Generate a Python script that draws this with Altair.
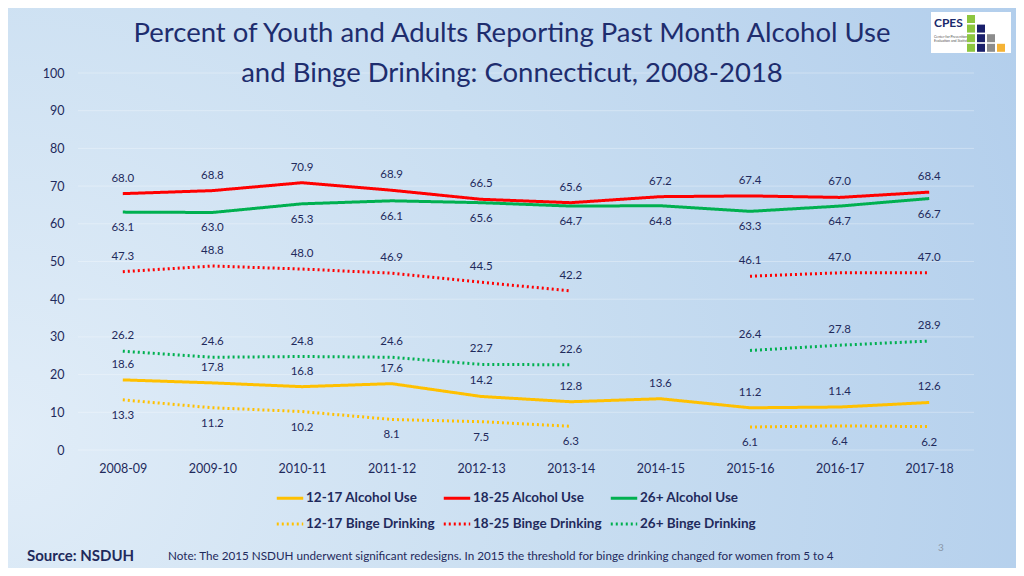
import altair as alt
import pandas as pd

categories = ["2008-09", "2009-10", "2010-11", "2011-12", "2012-13",
              "2013-14", "2014-15", "2015-16", "2016-17", "2017-18"]
alc_1217 = [18.6, 17.8, 16.8, 17.6, 14.2, 12.8, 13.6, 11.2, 11.4, 12.6]
alc_1825 = [68.0, 68.8, 70.9, 68.9, 66.5, 65.6, 67.2, 67.4, 67.0, 68.4]
alc_26 = [63.1, 63.0, 65.3, 66.1, 65.6, 64.7, 64.8, 63.3, 64.7, 66.7]
binge_1217 = [13.3, 11.2, 10.2, 8.1, 7.5, 6.3, None, 6.1, 6.4, 6.2]
binge_1825 = [47.3, 48.8, 48.0, 46.9, 44.5, 42.2, None, 46.1, 47.0, 47.0]
binge_26 = [26.2, 24.6, 24.8, 24.6, 22.7, 22.6, None, 26.4, 27.8, 28.9]
y_ticks = [0, 10, 20, 30, 40, 50, 60, 70, 80, 90, 100]

series_names = ["12-17 Alcohol Use", "18-25 Alcohol Use", "26+ Alcohol Use",
                "12-17 Binge Drinking", "18-25 Binge Drinking", "26+ Binge Drinking"]
series_values = [alc_1217, alc_1825, alc_26, binge_1217, binge_1825, binge_26]
label_side = ["above", "above", "below", "below", "above", "above"]
colors = ["#FFC000", "#FF0000", "#00B050", "#FFC000", "#FF0000", "#00B050"]
dashes = [[1, 0], [1, 0], [1, 0], [2, 3], [2, 3], [2, 3]]

rows = []
for name, vals, side in zip(series_names, series_values, label_side):
    seg = 0
    for cat, v in zip(categories, vals):
        if v is None:
            seg += 1
            continue
        rows.append({"cat": cat, "value": v, "series": name,
                     "segment": f"{name}-{seg}", "side": side,
                     "label": f"{v:.1f}"})
df = pd.DataFrame(rows)

W, H = 896, 377
NAVY = "#1F2A5C"
FONT = "Lato"

xenc = alt.X("cat:N", sort=categories, title=None,
             scale=alt.Scale(paddingInner=0, paddingOuter=0.5),
             axis=alt.Axis(labelAngle=0, labelFontSize=12.5, labelColor=NAVY,
                           labelPadding=12, domain=False, ticks=False,
                           labelFont=FONT, grid=False, zindex=1))
y_axis = alt.Axis(values=y_ticks, labelFontSize=12.5, labelOverlap=False,
                  labelColor=NAVY, labelPadding=14, domain=False,
                  ticks=False, labelFont=FONT, grid=False, zindex=1)
y_scale = alt.Scale(domain=[0, 100], nice=False)
yenc = alt.Y("value:Q", title=None, scale=y_scale, axis=y_axis)

legend_def = alt.Legend(title=None, orient="none", legendX=197, legendY=H + 33,
                        columns=3, direction="horizontal",
                        symbolType="stroke", symbolSize=700,
                        symbolStrokeWidth=3, labelFontSize=13.5,
                        labelFont=FONT, labelFontWeight="bold",
                        labelColor=NAVY, rowPadding=4,
                        columnPadding=2, labelOffset=1,
                        symbolOffset=0)

one = pd.DataFrame({"a": [0]})

bg = alt.Chart(one).mark_rect(
    color={"gradient": "radial", "x1": 0.0, "y1": 0.65, "r1": 0.0,
           "x2": 0.0, "y2": 0.65, "r2": 1.1,
           "stops": [{"offset": 0, "color": "#E1EDF8"},
                     {"offset": 0.5, "color": "#C9DEF1"},
                     {"offset": 1, "color": "#B2CEEC"}]}
).encode(x=alt.value(-72), x2=alt.value(W + 44), y=alt.value(-67), y2=alt.value(H + 120))

grid = alt.Chart(pd.DataFrame({"value": y_ticks})).mark_rule(
    color="#FFFFFF", opacity=0.3, strokeWidth=1).encode(
    y=yenc, x=alt.value(0), x2=alt.value(W))

lines = alt.Chart(df).mark_line(strokeWidth=3).encode(
    x=xenc, y=yenc,
    color=alt.Color("series:N", sort=series_names,
                    scale=alt.Scale(domain=series_names, range=colors),
                    legend=legend_def),
    strokeDash=alt.StrokeDash("series:N", sort=series_names,
                              scale=alt.Scale(domain=series_names, range=dashes),
                              legend=legend_def),
    detail="segment:N",
)

labels_above = alt.Chart(df).transform_filter("datum.side == 'above'").mark_text(
    dy=-15, fontSize=11.5, color=NAVY, font=FONT).encode(
    x=xenc, y=yenc, text="label:N")
labels_below = alt.Chart(df).transform_filter("datum.side == 'below'").mark_text(
    dy=16, fontSize=11.5, color=NAVY, font=FONT).encode(
    x=xenc, y=yenc, text="label:N")

title_lines = ["Percent of Youth and Adults Reporting Past Month Alcohol Use",
               "and Binge Drinking: Connecticut, 2008-2018"]
title1 = alt.Chart(one).mark_text(
    text=title_lines[0], fontSize=27.5, color="#1E2D6E", font=FONT,
    baseline="middle", align="center").encode(x=alt.value(434), y=alt.value(-39))
title2 = alt.Chart(one).mark_text(
    text=title_lines[1], fontSize=27.5, color="#1E2D6E", font=FONT,
    baseline="middle", align="center").encode(x=alt.value(434), y=alt.value(1))

foot = alt.Chart(one)
source_txt = foot.mark_text(text="Source: NSDUH", fontSize=15, fontWeight="bold",
                            color=NAVY, font=FONT, align="left").encode(
    x=alt.value(-51), y=alt.value(H + 106))
note_txt = foot.mark_text(
    text="Note: The 2015 NSDUH underwent significant redesigns. In 2015 the threshold for binge drinking changed for women from 5 to 4",
    fontSize=11.7, color=NAVY, font=FONT, align="left").encode(
    x=alt.value(90), y=alt.value(H + 106))
page_txt = foot.mark_text(text="3", fontSize=10, color="#8A97A8", font=FONT).encode(
    x=alt.value(863), y=alt.value(H + 98))

logo_layers = [
    foot.mark_rect(color="white").encode(
        x=alt.value(853), x2=alt.value(933), y=alt.value(-61), y2=alt.value(-20)),
    foot.mark_text(text="CPES", fontSize=12, fontWeight="bold", color="#1A2A6C",
                   font=FONT, align="left").encode(x=alt.value(856), y=alt.value(-50)),
    foot.mark_text(text="Center for Prevention", fontSize=3.5, color="#555",
                   font=FONT, align="left").encode(x=alt.value(856), y=alt.value(-36)),
    foot.mark_text(text="Evaluation and Statistics", fontSize=3.5, color="#555",
                   font=FONT, align="left").encode(x=alt.value(856), y=alt.value(-32)),
]
logo_cells = [(0, 0, "#8DC63F"), (0, 1, "#8DC63F"), (0, 2, "#8DC63F"), (0, 3, "#8DC63F"),
              (1, 1, "#1A1F6B"), (1, 2, "#1A1F6B"), (1, 3, "#1A1F6B"),
              (2, 2, "#8C8C8C"), (2, 3, "#8C8C8C"), (3, 3, "#F5B335")]
for c, r, col in logo_cells:
    x0 = 889 + c * 10
    y0 = -58 + r * 9.6
    logo_layers.append(foot.mark_rect(color=col).encode(
        x=alt.value(x0), x2=alt.value(x0 + 8), y=alt.value(y0), y2=alt.value(y0 + 8)))

chart = alt.layer(
    bg, grid, lines, labels_above, labels_below, title1, title2,
    source_txt, note_txt, page_txt, *logo_layers
).properties(
    width=W, height=H,
    autosize=alt.AutoSizeParams(type="none"),
    padding={"left": 70, "top": 65, "right": 42, "bottom": 118},
).configure_view(stroke=None).configure(background="#C9DEF1")

chart.save("out.html", embed_options={"renderer": "svg", "actions": False})
